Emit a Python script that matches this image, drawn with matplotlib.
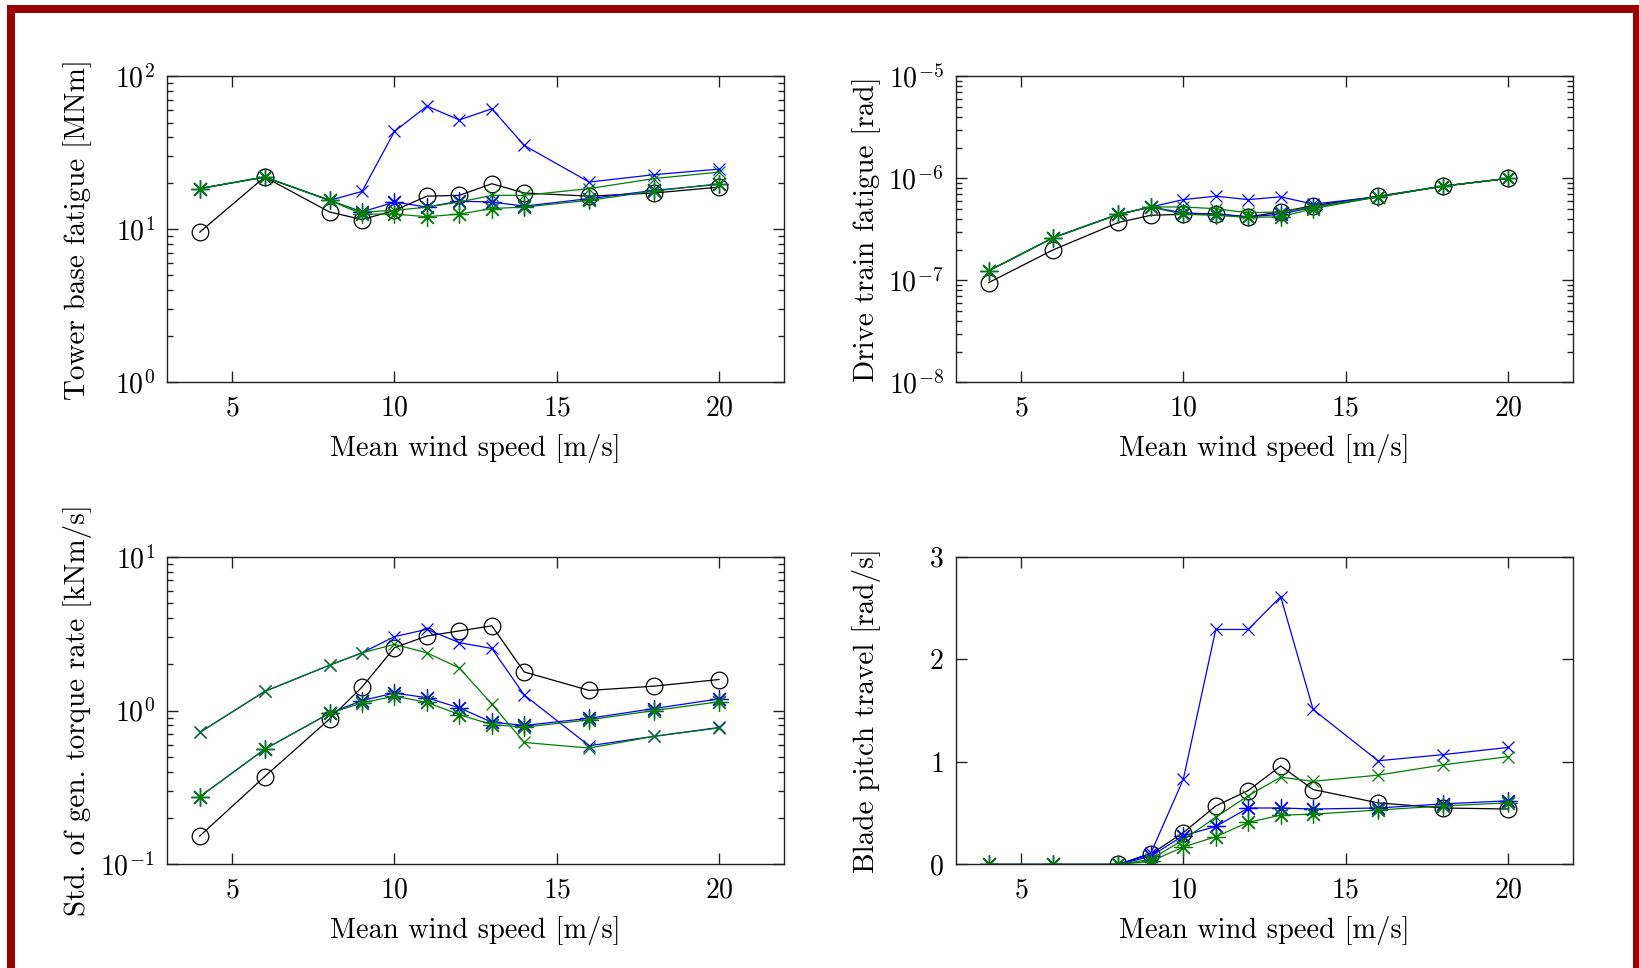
import numpy as np
import matplotlib
matplotlib.use("Agg")
import matplotlib.pyplot as plt
from matplotlib.patches import Rectangle
from matplotlib.ticker import LogLocator, NullFormatter, FixedLocator

plt.rcParams['font.family'] = 'serif'
plt.rcParams['font.serif'] = ['cmr10', 'DejaVu Serif']
plt.rcParams['mathtext.fontset'] = 'cm'
plt.rcParams['axes.formatter.use_mathtext'] = True
plt.rcParams['axes.unicode_minus'] = False

wind = [4, 6, 8, 9, 10, 11, 12, 13, 14, 16, 18, 20]
xlabel = "Mean wind speed [m/s]"

# Tower base fatigue [MNm]
tower_black = [9.6, 22, 13, 11.6, 13.3, 16.5, 16.7, 19.9, 17.3, 16.5, 17.3, 18.9]
tower_blue_x = [18.5, 22, 15.5, 17.7, 43.7, 64, 52, 61.5, 35.4, 20.4, 22.8, 24.8]
tower_blue_star = [18.5, 22, 15.5, 13, 15.1, 14, 15.3, 15.1, 14.2, 15.9, 18, 19.7]
tower_green_x = [18.5, 22, 15.5, 13, 13.3, 14, 15.1, 16.7, 16.7, 18.5, 21.5, 23.7]
tower_green_star = [18.5, 22, 15.5, 12.6, 12.6, 12.1, 12.6, 13.7, 14, 15.5, 17.8, 19.9]

# Drive train fatigue [rad]
drive_black = [9.5e-8, 2.0e-7, 3.7e-7, 4.35e-7, 4.45e-7, 4.5e-7, 4.2e-7, 4.7e-7, 5.4e-7, 6.7e-7, 8.4e-7, 1.0e-6]
drive_blue_x = [1.24e-7, 2.63e-7, 4.45e-7, 5.25e-7, 6.2e-7, 6.7e-7, 6.2e-7, 6.6e-7, 5.6e-7, 6.6e-7, 8.4e-7, 1.0e-6]
drive_blue_star = [1.24e-7, 2.63e-7, 4.45e-7, 5.25e-7, 4.6e-7, 4.45e-7, 4.2e-7, 4.45e-7, 5.25e-7, 6.6e-7, 8.4e-7, 1.0e-6]
drive_green_x = [1.24e-7, 2.63e-7, 4.45e-7, 5.25e-7, 5.25e-7, 5.05e-7, 4.6e-7, 4.7e-7, 5.25e-7, 6.6e-7, 8.4e-7, 1.0e-6]
drive_green_star = [1.24e-7, 2.63e-7, 4.45e-7, 5.25e-7, 4.45e-7, 4.35e-7, 4.15e-7, 4.2e-7, 5.05e-7, 6.6e-7, 8.4e-7, 1.0e-6]

# Std. of gen. torque rate [kNm/s]
torque_black = [0.153, 0.372, 0.88, 1.42, 2.56, 3.05, 3.29, 3.55, 1.78, 1.35, 1.44, 1.59]
torque_blue_x = [0.72, 1.33, 1.97, 2.37, 3.02, 3.37, 2.76, 2.53, 1.26, 0.59, 0.68, 0.776]
torque_blue_star = [0.275, 0.56, 0.96, 1.16, 1.30, 1.21, 1.04, 0.84, 0.80, 0.89, 1.03, 1.19]
torque_green_x = [0.72, 1.33, 1.97, 2.37, 2.69, 2.37, 1.89, 1.10, 0.62, 0.57, 0.68, 0.77]
torque_green_star = [0.275, 0.56, 0.96, 1.12, 1.24, 1.13, 0.94, 0.81, 0.78, 0.87, 1.0, 1.14]

# Blade pitch travel [rad/s]
pitch_black = [np.nan, np.nan, 0, 0.10, 0.31, 0.57, 0.72, 0.96, 0.73, 0.60, 0.55, 0.54]
pitch_blue_x = [0, 0, 0, 0.11, 0.83, 2.29, 2.29, 2.61, 1.51, 1.01, 1.07, 1.14]
pitch_blue_star = [0, 0, 0, 0.08, 0.28, 0.37, 0.55, 0.55, 0.54, 0.55, 0.59, 0.62]
pitch_green_x = [0, 0, 0, 0.05, 0.24, 0.46, 0.67, 0.85, 0.81, 0.87, 0.97, 1.05]
pitch_green_star = [0, 0, 0, 0.03, 0.17, 0.27, 0.41, 0.48, 0.49, 0.53, 0.57, 0.60]

panels = [
    ("Tower base fatigue [MNm]", "log", (1, 100),
     [tower_black, tower_blue_x, tower_blue_star, tower_green_x, tower_green_star]),
    ("Drive train fatigue [rad]", "log", (1e-8, 1e-5),
     [drive_black, drive_blue_x, drive_blue_star, drive_green_x, drive_green_star]),
    ("Std. of gen. torque rate [kNm/s]", "log", (0.1, 10),
     [torque_black, torque_blue_x, torque_blue_star, torque_green_x, torque_green_star]),
    ("Blade pitch travel [rad/s]", "linear", (0, 3),
     [pitch_black, pitch_blue_x, pitch_blue_star, pitch_green_x, pitch_green_star]),
]

BLUE = '#0000ff'
GREEN = '#007f00'
ASTER = (8, 2, 0)
styles = [
    dict(color='black', marker='o', markersize=12, markerfacecolor='none'),
    dict(color=BLUE, marker='x', markersize=9),
    dict(color=BLUE, marker=ASTER, markersize=13),
    dict(color=GREEN, marker='x', markersize=9),
    dict(color=GREEN, marker=ASTER, markersize=13),
]

fig = plt.figure(figsize=(16.4, 9.68), dpi=100)
positions = [
    (0.102, 0.605, 0.376, 0.316),
    (0.583, 0.605, 0.376, 0.316),
    (0.102, 0.107, 0.376, 0.318),
    (0.583, 0.107, 0.376, 0.318),
]

for (ylabel, scale, ylim, series), pos in zip(panels, positions):
    ax = fig.add_axes(pos)
    for data, st in zip(series, styles):
        ax.plot(wind, data, linewidth=0.9, markeredgewidth=0.9, **st)
    ax.set_yscale(scale)
    ax.set_ylim(*ylim)
    ax.set_xlim(3, 22)
    ax.xaxis.set_major_locator(FixedLocator([5, 10, 15, 20]))
    if scale == 'log':
        ax.yaxis.set_major_locator(LogLocator(base=10, numticks=10))
        ax.yaxis.set_minor_locator(LogLocator(base=10, subs=np.arange(2, 10), numticks=20))
        ax.yaxis.set_minor_formatter(NullFormatter())
    else:
        ax.yaxis.set_major_locator(FixedLocator([0, 1, 2, 3]))
    ax.tick_params(which='both', direction='in', top=True, right=True, labelsize=20,
                   color='#222222')
    ax.tick_params(which='major', length=8, width=1, pad=9)
    ax.tick_params(which='minor', length=4, width=1)
    ax.set_xlabel(xlabel, fontsize=20.5, labelpad=9)
    ax.set_ylabel(ylabel, fontsize=21)
    ax.yaxis.set_label_coords(-0.122, 0.5)
    for s in ax.spines.values():
        s.set_linewidth(1.0)
        s.set_color('#222222')

W, H = 1640, 968
rect = Rectangle((11 / W, -2 / H), (1637 - 11) / W, (970 - 9) / H,
                 transform=fig.transFigure, fill=False, edgecolor='#990000',
                 linewidth=8 * 72 / 100, clip_on=False)
fig.patches.append(rect)

fig.savefig("out.png", dpi=100)
